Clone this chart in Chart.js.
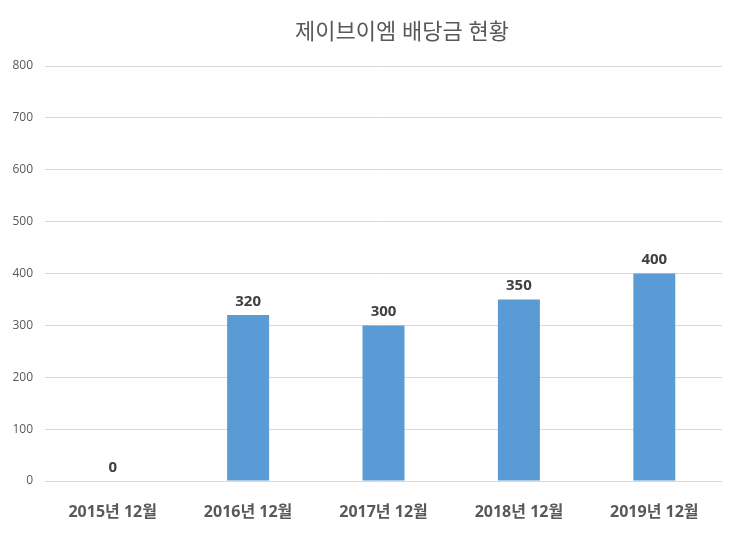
<!DOCTYPE html>
<html lang="ko">
<head>
<meta charset="utf-8">
<title>제이브이엠 배당금 현황</title>
<script src="https://cdn.jsdelivr.net/npm/chart.js@4"></script>
<style>
    html, body { margin: 0; padding: 0; background: #ffffff; }
    #wrap { width: 740px; height: 535px; }
</style>
</head>
<body>
<div id="wrap"><canvas id="dividendChart" width="740" height="535"></canvas></div>
<script>
// Chart data
const chartTitle = '제이브이엠 배당금 현황';
const categories = ['2015년 12월', '2016년 12월', '2017년 12월', '2018년 12월', '2019년 12월'];
const dividends = [0, 320, 300, 350, 400];
const yTicks = [0, 100, 200, 300, 400, 500, 600, 700, 800];

const fontFamily = "'Open Sans', 'Noto Sans CJK KR', sans-serif";

// Title drawn by hand (sits a bit right of centre, like the original)
const chartHeading = {
    id: 'chartHeading',
    afterDraw: (chart) => {
        const ctx = chart.ctx;
        ctx.save();
        ctx.font = '22px ' + fontFamily;
        ctx.fillStyle = '#595959';
        ctx.textAlign = 'center';
        ctx.textBaseline = 'middle';
        ctx.fillText(chartTitle, 402, 33);
        ctx.restore();
    }
};

// Draw value labels above each bar
const valueLabels = {
    id: 'valueLabels',
    afterDatasetsDraw: (chart) => {
        const ctx = chart.ctx;
        ctx.save();
        ctx.font = 'bold 15px ' + fontFamily;
        ctx.fillStyle = '#404040';
        ctx.textAlign = 'center';
        ctx.textBaseline = 'bottom';
        chart.getDatasetMeta(0).data.forEach((bar, i) => {
            ctx.fillText(String(dividends[i]), bar.x, bar.y - 6);
        });
        ctx.restore();
    }
};

const ctx = document.getElementById('dividendChart');
new Chart(ctx, {
    type: 'bar',
    data: {
        labels: categories,
        datasets: [{
            label: '배당금',
            data: dividends,
            backgroundColor: '#5b9bd5',
            barPercentage: 0.31,
            categoryPercentage: 1.0
        }]
    },
    options: {
        responsive: false,
        animation: false,
        layout: { padding: { top: 66, right: 18, bottom: 0, left: 0 } },
        plugins: {
            legend: { display: false },
            tooltip: { enabled: false },
            title: { display: false }
        },
        scales: {
            x: {
                afterFit: (scale) => { scale.height = 54; },
                grid: { display: false },
                border: { display: false },
                ticks: {
                    color: '#595959',
                    padding: 14,
                    font: { family: fontFamily, size: 16, weight: 'bold' }
                }
            },
            y: {
                min: 0,
                max: 800,
                afterBuildTicks: (scale) => {
                    scale.ticks = yTicks.map(v => ({ value: v }));
                },
                afterFit: (scale) => { scale.width = 45; },
                grid: { color: '#d9d9d9', drawTicks: false },
                border: { display: false },
                ticks: {
                    color: '#595959',
                    padding: 12,
                    font: { family: fontFamily, size: 12 }
                }
            }
        }
    },
    plugins: [valueLabels, chartHeading]
});
</script>
</body>
</html>
